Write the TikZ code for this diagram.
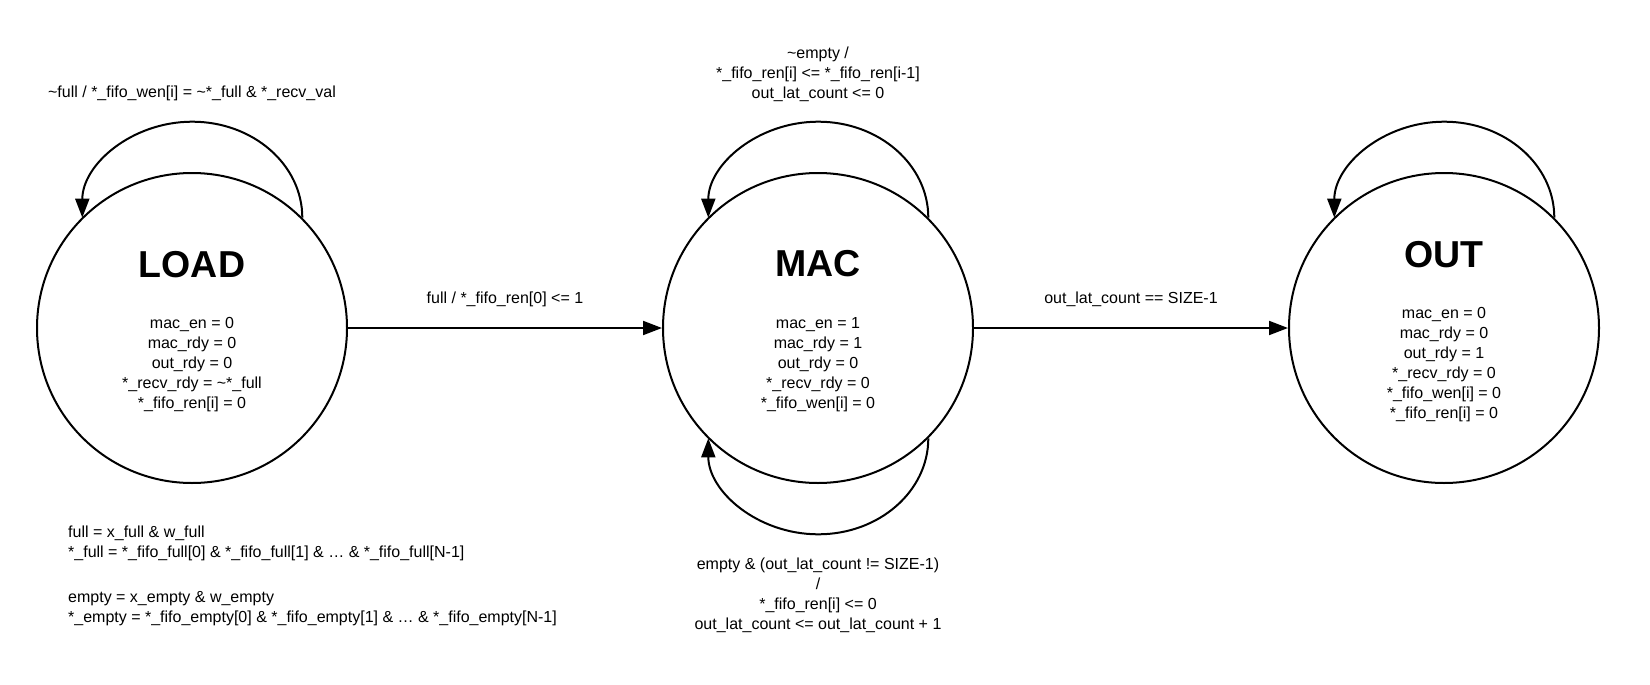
\documentclass[tikz,border=0pt]{standalone}
\usepackage{fontspec}
\setmainfont{Liberation Sans}
\usetikzlibrary{arrows.meta}

\tikzset{
	zustand/.style={draw, circle, line width=2pt, minimum size=310pt, inner sep=0pt},
	titel/.style={inner sep=0pt, font=\fontsize{37.5}{40}\selectfont\bfseries},
	txt/.style={inner sep=0pt, align=center, font=\fontsize{16}{20}\selectfont},
	pfeil/.style={line width=2pt, -{Triangle[length=19pt,width=14pt]}},
}

\begin{document}
\begin{tikzpicture}[x=1pt,y=1pt]
	\useasboundingbox (0,0) rectangle (1650,-685);
	% Zustaende
	\node[zustand] (load) at (192,-328) {};
	\node[zustand] (mac) at (818,-328) {};
	\node[zustand] (out) at (1444,-328) {};
	% Zustandsnamen
	\node[titel] (loadname) at (192,-265) {LOAD};
	\node[titel] (macname) at (818,-264) {MAC};
	\node[titel] (outname) at (1444,-255) {OUT};
	% Ausgaben
	\node[txt] (loadaus) at (192,-365) {mac\_en = 0\\ mac\_rdy = 0\\ out\_rdy = 0\\
		{*}\_recv\_rdy = \textasciitilde{*}\_full\\ {*}\_fifo\_ren[i] = 0};
	\node[txt] (macaus) at (818,-365) {mac\_en = 1\\ mac\_rdy = 1\\ out\_rdy = 0\\
		{*}\_recv\_rdy = 0\\ {*}\_fifo\_wen[i] = 0};
	\node[txt] (outaus) at (1444,-365) {mac\_en = 0\\ mac\_rdy = 0\\ out\_rdy = 1\\
		{*}\_recv\_rdy = 0\\ {*}\_fifo\_wen[i] = 0\\ {*}\_fifo\_ren[i] = 0};

	% Uebergaenge
	\draw[pfeil] (load) -- (mac);
	\node[txt] (loadmac) at (505,-299) {full / {*}\_fifo\_ren[0] <= 1};
	\draw[pfeil] (mac) -- (out);
	\node[txt] (macout) at (1131,-299) {out\_lat\_count == SIZE-1};

	% Schleifen
	\draw[pfeil] (load.45) arc[start angle=0, end angle=180, x radius=110, y radius=96];
	\node[txt] (loadloop) at (192,-93) {\textasciitilde full / {*}\_fifo\_wen[i] =
		\textasciitilde{*}\_full \& {*}\_recv\_val};
	\draw[pfeil] (mac.45) arc[start angle=0, end angle=180, x radius=110, y radius=96];
	\node[txt] (macloop) at (818,-74) {\textasciitilde empty /\\
		{*}\_fifo\_ren[i] <= {*}\_fifo\_ren[i-1]\\ out\_lat\_count <= 0};
	\draw[pfeil] (mac.-45) arc[start angle=0, end angle=-180, x radius=110, y radius=96];
	\node[txt] (macwait) at (818,-595) {empty \& (out\_lat\_count != SIZE-1)\\ /\\
		{*}\_fifo\_ren[i] <= 0\\ out\_lat\_count <= out\_lat\_count + 1};
	\draw[pfeil] (out.45) arc[start angle=0, end angle=180, x radius=110, y radius=96];

	% Definitionen
	\node[txt, anchor=west, align=left] (volldef) at (68,-543) {full = x\_full \& w\_full\\
		{*}\_full = {*}\_fifo\_full[0] \& {*}\_fifo\_full[1] \& … \& {*}\_fifo\_full[N-1]};
	\node[txt, anchor=west, align=left] (leerdef) at (68,-609) {empty = x\_empty \& w\_empty\\
		{*}\_empty = {*}\_fifo\_empty[0] \& {*}\_fifo\_empty[1] \& … \& {*}\_fifo\_empty[N-1]};
\end{tikzpicture}
\end{document}
